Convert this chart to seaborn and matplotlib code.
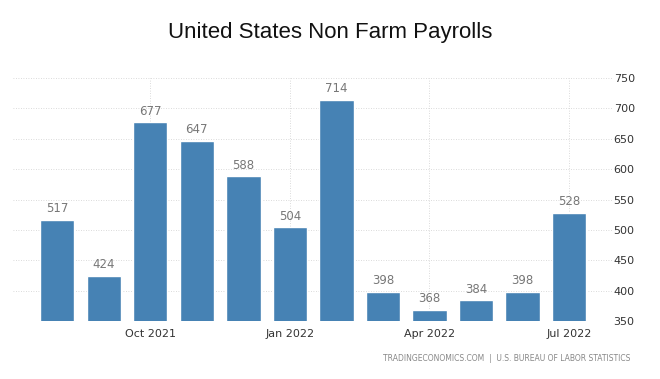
import seaborn as sns
import matplotlib.pyplot as plt
import pandas as pd

# monthly non farm payrolls change (thousands)
months = ["Aug 2021", "Sep 2021", "Oct 2021", "Nov 2021", "Dec 2021", "Jan 2022",
          "Feb 2022", "Mar 2022", "Apr 2022", "May 2022", "Jun 2022", "Jul 2022"]
payrolls = [517, 424, 677, 647, 588, 504, 714, 398, 368, 384, 398, 528]
tick_labels = ["Oct 2021", "Jan 2022", "Apr 2022", "Jul 2022"]
y_ticks = [350, 400, 450, 500, 550, 600, 650, 700, 750]

df = pd.DataFrame({"month": months, "value": payrolls})

sns.set_style("white")
plt.rcParams["font.family"] = ["DejaVu Sans"]

fig = plt.figure(figsize=(6.6, 3.79), dpi=100)
ax = fig.add_axes([0.0197, 0.153, 0.908, 0.641])

sns.barplot(data=df, x="month", y="value", color="#4682b4", width=0.74,
            saturation=1, ax=ax, zorder=2)

for i, v in enumerate(payrolls):
    ax.text(i, v + 8, str(v), ha="center", va="bottom", fontsize=8.5, color="#777777")

ax.set_ylim(350, 750)
ax.set_xlim(-0.95, 11.93)
ax.set_yticks(y_ticks)
ax.yaxis.tick_right()
ax.tick_params(axis="y", length=0, pad=1, labelsize=8, labelcolor="#333333")
ax.tick_params(axis="x", length=0, pad=6, labelsize=8, labelcolor="#333333")
ax.set_xticks([months.index(t) for t in tick_labels])
ax.set_xticklabels(tick_labels)
ax.set_xlabel("")
ax.set_ylabel("")

ax.grid(True, axis="both", linestyle=(0, (1, 2)), color="#cfcfcf", linewidth=0.6, zorder=0)
ax.set_axisbelow(True)
for s in ax.spines.values():
    s.set_visible(False)

fig.text(0.5, 0.915, "United States Non Farm Payrolls", ha="center", va="center",
         fontsize=16, family="Liberation Sans", color="#111111")
fig.text(0.955, 0.055, "TRADINGECONOMICS.COM  |  U.S. BUREAU OF LABOR STATISTICS",
         ha="right", va="center", fontsize=5.5, color="#888888")

fig.savefig("out.png", dpi=100)
